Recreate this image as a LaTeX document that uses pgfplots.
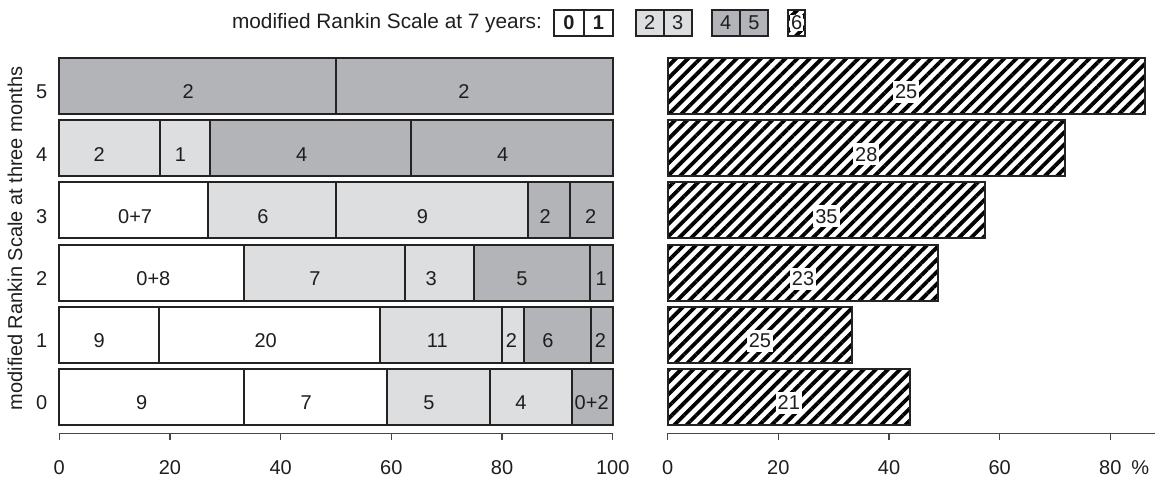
\documentclass[border=0pt]{standalone}
\usepackage{fontspec}
\setmainfont{Liberation Sans}
\usepackage{pgfplots}
\pgfplotsset{compat=1.18}
\usetikzlibrary{patterns.meta}
\definecolor{lgray}{RGB}{221,222,224}
\definecolor{dgray}{RGB}{179,180,183}
\definecolor{edge}{RGB}{35,35,35}
\definecolor{axisc}{RGB}{70,70,70}
\definecolor{txt}{RGB}{30,30,30}
\tikzset{hatch/.style={pattern={Lines[angle=45,distance=4.3pt,line width=1.9pt]},pattern color=black}}
\newcommand{\fs}{\fontsize{10}{12}\selectfont}
\pgfplotsset{
  common/.style={
    scale only axis,
    /pgf/number format/assume math mode=true,
    tick label style={font=\fs, text=txt},
    xticklabel style={yshift=-6.5pt},
    label style={font=\fs, text=txt},
    axis x line*=bottom, axis y line*=left,
    y axis line style={draw=none},
    ytick style={draw=none},
    x axis line style={axisc, line width=0.7pt},
    xtick style={axisc, line width=0.7pt},
    tick align=outside, major tick length=3.5pt,
    ymin=-0.584, ymax=5.5,
    height=189.2pt,
    ytick={0,...,5},
    clip=false,
  },
  labels/.style={
    only marks, mark=*, mark size=0pt, mark options={draw=none,fill=none},
    point meta=explicit symbolic, nodes near coords,
    nodes near coords align={center},
    every node near coord/.append style={font=\fs, text=txt, yshift=-3pt},
  },
}
\begin{document}
\begin{tikzpicture}
\useasboundingbox (0,0) rectangle (577.5pt,-239.5pt);
% left panel: bars
\begin{axis}[common, at={(29.65pt,-216.65pt)}, anchor=south west,
  width=276.7pt, xmin=0, xmax=100, xtick={0,20,...,100},
  xbar stacked, bar width=0.9,
  yticklabel style={yshift=-3pt, xshift=1pt},
  ylabel={modified Rankin Scale at three months},
  ylabel style={at={(axis description cs:-0.080,0.515)}, anchor=center},
]
\addplot[fill=white, draw=edge, line width=1pt] coordinates {(33.33,0) (18,1) (33.33,2) (26.92,3) (0,4) (0,5)};
\addplot[fill=white, draw=edge, line width=1pt] coordinates {(25.93,0) (40,1) (0,2) (0,3) (0,4) (0,5)};
\addplot[fill=lgray, draw=edge, line width=1pt] coordinates {(18.52,0) (22,1) (29.17,2) (23.08,3) (18.18,4) (0,5)};
\addplot[fill=lgray, draw=edge, line width=1pt] coordinates {(14.81,0) (4,1) (12.5,2) (34.62,3) (9.09,4) (0,5)};
\addplot[fill=dgray, draw=edge, line width=1pt] coordinates {(7.41,0) (12,1) (20.83,2) (7.69,3) (36.36,4) (50,5)};
\addplot[fill=dgray, draw=edge, line width=1pt] coordinates {(0,0) (4,1) (4.17,2) (7.69,3) (36.36,4) (50,5)};
\end{axis}
% left panel: segment labels
\begin{axis}[at={(29.65pt,-216.65pt)}, anchor=south west, scale only axis,
  width=276.7pt, height=189.2pt, xmin=0, xmax=100, ymin=-0.584, ymax=5.5,
  hide axis, clip=false]
\addplot[labels] coordinates {
 (23.3,5)[2] (73.1,5)[2]
 (7.2,4)[2] (21.9,4)[1] (43.8,4)[4] (80.1,4)[4]
 (13.7,3)[0+7] (36.8,3)[6] (65.6,3)[9] (87.8,3)[2] (96.0,3)[2]
 (17.0,2)[0+8] (46.2,2)[7] (67.2,2)[3] (83.6,2)[5] (97.9,2)[1]
 (7.2,1)[9] (37.3,1)[20] (68.3,1)[11] (81.7,1)[2] (88.3,1)[6] (97.8,1)[2]
 (14.9,0)[9] (44.6,0)[7] (66.8,0)[5] (83.4,0)[4] (96.2,0)[0+2]
};
\end{axis}
% right panel
\begin{axis}[common, at={(333.85pt,-216.65pt)}, anchor=south west,
  width=243.45pt, xmin=0, xmax=88, xtick={0,20,...,80}, ytick=\empty,
  extra x ticks={85.4}, extra x tick labels={\mbox{\fs\%}},
  extra x tick style={major tick length=0pt, tick label style={yshift=-3.5pt}},
]
\addplot[xbar, bar width=0.9, hatch, draw=edge, line width=1pt] coordinates {(43.75,0) (33.33,1) (48.94,2) (57.38,3) (71.79,4) (86.21,5)};
\addplot[labels, every node near coord/.append style={fill=white, inner xsep=1pt, inner ysep=2pt}] coordinates {
 (21.88,0)[21] (16.67,1)[25] (24.47,2)[23] (28.69,3)[35] (35.90,4)[28] (43.10,5)[25]
};
\end{axis}
% legend
\node[anchor=east, font=\fontsize{10.4}{12}\selectfont, text=txt] at (274.5pt,-11.5pt) {modified Rankin Scale at 7 years:};
\draw[edge, line width=1pt, fill=white] (277pt,-5pt) rectangle (306.35pt,-18pt);
\draw[edge, line width=1pt] (292pt,-5pt) -- (292pt,-18pt);
\node[font=\fs\bfseries, text=txt] at (284.5pt,-11.5pt) {0};
\node[font=\fs\bfseries, text=txt] at (299.2pt,-11.5pt) {1};
\draw[edge, line width=1pt, fill=lgray] (317.85pt,-5pt) rectangle (345.85pt,-18pt);
\draw[edge, line width=1pt] (331.85pt,-5pt) -- (331.85pt,-18pt);
\node[font=\fs, text=txt] at (324.85pt,-11.5pt) {2};
\node[font=\fs, text=txt] at (338.85pt,-11.5pt) {3};
\draw[edge, line width=1pt, fill=dgray] (355.85pt,-5pt) rectangle (383.85pt,-18pt);
\draw[edge, line width=1pt] (370pt,-5pt) -- (370pt,-18pt);
\node[font=\fs, text=txt] at (362.9pt,-11.5pt) {4};
\node[font=\fs, text=txt] at (376.9pt,-11.5pt) {5};
\draw[edge, line width=1pt, hatch] (394.15pt,-5pt) rectangle (402.5pt,-18pt);
\draw[edge, line width=1pt] (394.15pt,-5pt) rectangle (402.5pt,-18pt);
\node[font=\fs, text=txt, fill=white, inner sep=0.3pt] at (398.3pt,-11.5pt) {6};
\end{tikzpicture}
\end{document}
